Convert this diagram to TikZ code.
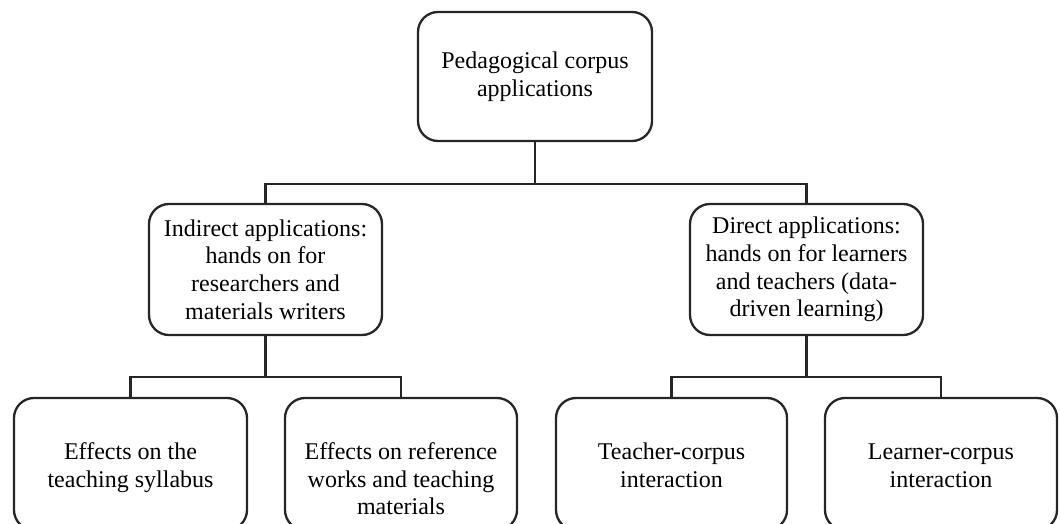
\documentclass[tikz,border=0pt]{standalone}
\usepackage{fontspec}
\setmainfont{Liberation Serif}
\begin{document}
\begin{tikzpicture}[x=0.5pt,y=-0.5pt,
  box/.style={draw=black!85, line width=1.15pt, rounded corners=10pt, align=center,
    inner sep=0pt, font=\fontsize{12pt}{13.8pt}\selectfont},
  lbl/.style={align=center, inner sep=0pt, anchor=north, font=\fontsize{12pt}{13.8pt}\selectfont},
  conn/.style={draw=black!85, line width=1.15pt}]
\useasboundingbox (0,0) rectangle (1060,524);
\clip (0,0) rectangle (1060,524);
% top
\node[box, minimum width=117pt, minimum height=64.5pt] (top) at (535,76.5)
  {Pedagogical corpus\\applications};
% middle
\node[box, minimum width=116.5pt, minimum height=65.5pt] (midL) at (265.5,269.5)
  {Indirect applications:\\hands on for\\researchers and\\materials writers};
\node[box, minimum width=116.5pt, minimum height=65.5pt] (midR) at (806.5,269.5)
  {Direct applications:\\hands on for learners\\and teachers (data-\\driven learning)};
% bottom boxes
\node[box, minimum width=116.5pt, minimum height=66pt] (b1) at (130.5,464) {};
\node[box, minimum width=116pt, minimum height=66pt] (b2) at (401,464) {};
\node[box, minimum width=115.5pt, minimum height=66pt] (b3) at (671.5,464) {};
\node[box, minimum width=116pt, minimum height=66pt] (b4) at (941,464) {};
\node[lbl] (t1) at (130.5,440) {\strut Effects on the\\teaching syllabus};
\node[lbl] (t2) at (401,440) {\strut Effects on reference\\works and teaching\\materials};
\node[lbl] (t3) at (671.5,440) {\strut Teacher-corpus\\interaction};
\node[lbl] (t4) at (941,440) {\strut Learner-corpus\\interaction};
% junctions
\coordinate (j1) at (535,184);
\coordinate (j2) at (265.5,377);
\coordinate (j3) at (806.5,377);
\draw[conn] (top.south) -- (j1);
\draw[conn] (midL.north) |- (j1) -| (midR.north);
\draw[conn] (midL.south) -- (j2);
\draw[conn] (b1.north) |- (j2) -| (b2.north);
\draw[conn] (midR.south) -- (j3);
\draw[conn] (b3.north) |- (j3) -| (b4.north);
\end{tikzpicture}
\end{document}
